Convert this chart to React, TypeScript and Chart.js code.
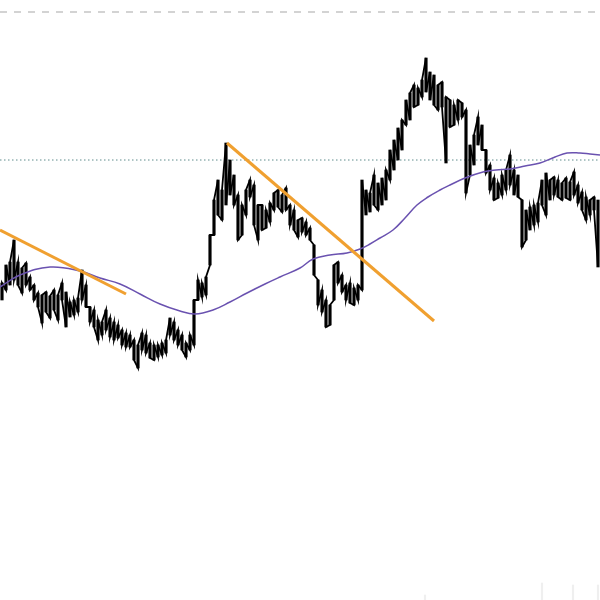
import React, { useEffect, useRef } from "react";
import { Chart, registerables } from "chart.js";

Chart.register(...registerables);

// Price bars: one bar every 4 time units, [low, high] in price units
const barHigh = [
  317, 335, 338, 360, 338, 332, 337, 323, 315, 307,
  305, 308, 304, 310, 305, 317, 308, 298, 300, 302,
  330, 315, 293, 290, 280, 278, 290, 282, 278, 275,
  270, 267, 265, 260, 255, 267, 265, 257, 255, 255,
  257, 260, 282, 278, 270, 265, 257, 265, 300, 320,
  317, 323, 365, 400, 420, 410, 457, 440, 425, 405,
  395, 410, 420, 415, 395, 395, 390, 397, 407, 410,
  405, 412, 395, 390, 380, 382, 378, 372, 355, 320,
  310, 300, 295, 335, 338, 325, 315, 317, 312, 315,
  420, 410, 407, 425, 417, 422, 430, 450, 460, 472,
  480, 500, 507, 515, 512, 520, 542, 528, 525, 515,
  518, 503, 500, 495, 500, 497, 490, 455, 465, 483,
  475, 450, 435, 422, 417, 425, 430, 445, 430, 425,
  400, 390, 393, 395, 397, 420, 427, 420, 423, 420,
  417, 422, 418, 428, 415, 408, 403, 400, 403, 400,
];
const barLow = [
  300, 310, 315, 320, 315, 307, 315, 310, 300, 293,
  277, 288, 282, 290, 280, 300, 273, 283, 285, 288,
  300, 293, 278, 273, 260, 265, 270, 263, 260, 262,
  255, 253, 253, 240, 232, 250, 247, 242, 240, 243,
  245, 247, 265, 260, 255, 250, 243, 250, 255, 300,
  303, 305, 335, 365, 385, 380, 395, 405, 395, 360,
  365, 385, 403, 375, 360, 370, 372, 378, 390, 393,
  388, 390, 375, 370, 363, 368, 365, 360, 325, 295,
  288, 273, 275, 300, 317, 308, 300, 297, 295, 300,
  310, 385, 388, 395, 390, 395, 400, 420, 430, 440,
  450, 475, 480, 493, 495, 503, 508, 500, 495, 490,
  493, 437, 473, 475, 480, 483, 407, 425, 435, 455,
  450, 427, 410, 400, 402, 405, 410, 415, 405, 403,
  353, 360, 370, 375, 378, 395, 385, 400, 405, 403,
  400, 402, 400, 405, 397, 390, 380, 385, 390, 333,
];

// Moving average
const maX = [0, 20, 50, 80, 100, 120, 140, 160, 180, 195, 213, 230, 247, 265, 280, 300, 313, 330, 347, 360, 370, 380, 393, 405, 417, 428, 440, 450, 465, 483, 496, 510, 525, 540, 555, 567, 580, 590, 600];
const maY = [313, 325, 333, 329, 322, 316, 306, 296, 289, 286, 290, 298, 307, 316, 323, 332, 341, 345, 347, 351, 356, 362, 370, 382, 395, 403, 410, 415, 422, 428, 430, 431, 434, 437, 443, 447, 447, 446, 445];

// Trend lines [x0, y0, x1, y1]
const trend1 = [0, 370, 126, 306];
const trend2 = [227, 457, 434, 279];

// Horizontal levels
const levelDotted = 440;
const levelDashed = 588;

// Volume (faint, bottom)
const volX = [425, 542, 573, 598];
const volY = [5, 17, 15, 15];

export default function App() {
  const ref = useRef<HTMLCanvasElement>(null);
  useEffect(() => {
    document.body.style.margin = "0";
    const bars = barHigh.map((h, i) => ({ x: 4 * i + 2, y: [barLow[i], h] }));
    // path through each bar, running toward the next bar
    const path: { x: number; y: number }[] = [];
    barHigh.forEach((h, i) => {
      const x = 4 * i + 2;
      const mid = (h + barLow[i]) / 2;
      const next = i + 1 < barHigh.length ? (barHigh[i + 1] + barLow[i + 1]) / 2 : mid;
      if (next >= mid) {
        path.push({ x, y: barLow[i] }, { x, y: h });
      } else {
        path.push({ x, y: h }, { x, y: barLow[i] });
      }
    });
    const chart = new Chart(ref.current as HTMLCanvasElement, {
      type: "bar",
      data: {
        datasets: [
          {
            type: "line",
            data: [{ x: 0, y: levelDashed }, { x: 600, y: levelDashed }],
            borderColor: "#a8a8a8",
            borderWidth: 1,
            borderDash: [7, 7],
            pointRadius: 0,
            order: 5,
          } as any,
          {
            type: "line",
            data: [{ x: 0, y: levelDotted }, { x: 600, y: levelDotted }],
            borderColor: "#5f8c8c",
            borderWidth: 1,
            borderDash: [1.5, 2.5],
            pointRadius: 0,
            order: 5,
          } as any,
          {
            type: "bar",
            data: volX.map((x, i) => ({ x, y: [0, volY[i]] })),
            backgroundColor: "#efefef",
            barThickness: 1.5,
            grouped: false,
            order: 6,
          } as any,
          {
            type: "bar",
            data: bars,
            backgroundColor: "#000000",
            borderWidth: 0,
            barThickness: 2.5,
            grouped: false,
            order: 3,
          } as any,
          {
            type: "line",
            data: path,
            borderColor: "#000000",
            borderWidth: 1.8,
            pointRadius: 0,
            tension: 0,
            order: 3,
          } as any,
          {
            type: "line",
            data: maX.map((x, i) => ({ x, y: maY[i] })),
            borderColor: "#6a52b0",
            borderWidth: 1.5,
            pointRadius: 0,
            tension: 0.4,
            order: 2,
          } as any,
          {
            type: "line",
            data: [{ x: trend1[0], y: trend1[1] }, { x: trend1[2], y: trend1[3] }],
            borderColor: "#f0a030",
            borderWidth: 3,
            pointRadius: 0,
            order: 1,
          } as any,
          {
            type: "line",
            data: [{ x: trend2[0], y: trend2[1] }, { x: trend2[2], y: trend2[3] }],
            borderColor: "#f0a030",
            borderWidth: 3,
            pointRadius: 0,
            order: 1,
          } as any,
        ],
      },
      options: {
        animation: false,
        responsive: true,
        maintainAspectRatio: false,
        layout: { padding: 0 },
        plugins: { legend: { display: false }, tooltip: { enabled: false } },
        scales: {
          x: { type: "linear", min: 0, max: 600, display: false, offset: false },
          y: { type: "linear", min: 0, max: 600, display: false },
        },
      } as any,
    });
    return () => chart.destroy();
  }, []);
  return (
    <div style={{ width: 600, height: 600, position: "relative" }}>
      <canvas ref={ref} />
    </div>
  );
}
